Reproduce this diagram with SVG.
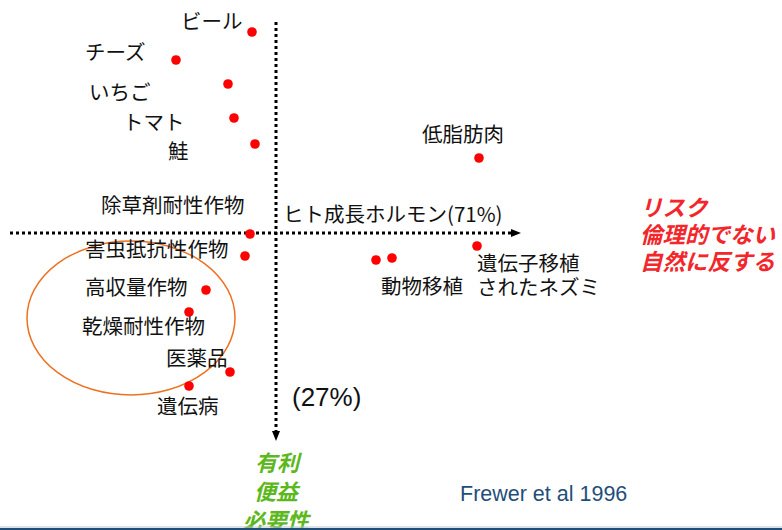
<svg xmlns="http://www.w3.org/2000/svg" width="782" height="530" viewBox="0 0 782 530">
<defs>
<style>
.t{font-family:"Noto Sans CJK JP","Liberation Sans",sans-serif;font-size:20.5px;fill:#111}
.d{fill:#f00}
.ax{stroke:#000;stroke-width:3;stroke-dasharray:3 3;fill:none}
.r{font-family:"Noto Sans CJK JP",sans-serif;font-size:22.5px;font-weight:bold;font-style:italic;fill:#f2262b}
.g{font-family:"Noto Sans CJK JP",sans-serif;font-size:22px;font-weight:bold;font-style:italic;fill:#5cb81c}
</style>
<marker id="ah" markerWidth="10" markerHeight="10" refX="0" refY="5" orient="auto" markerUnits="userSpaceOnUse">
<path d="M0,1 L10,5 L0,9 Z" fill="#000"/>
</marker>
</defs>
<rect width="782" height="530" fill="#fff"/>
<g id="connectors">
<line class="ax" x1="276" y1="22" x2="276" y2="431" marker-end="url(#ah)"/>
<line class="ax" x1="10" y1="233" x2="511" y2="233" marker-end="url(#ah)"/>
<ellipse cx="131" cy="318" rx="104" ry="77" fill="none" stroke="#ed7121" stroke-width="1.5"/>
</g>
<g id="beer"><circle class="d" cx="252" cy="32" r="4.8"/><text class="t" x="181" y="29">ビール</text></g>
<g id="cheese"><circle class="d" cx="176" cy="60" r="4.8"/><text class="t" x="85" y="60">チーズ</text></g>
<g id="strawberry"><circle class="d" cx="228" cy="84" r="4.8"/><text class="t" x="89" y="100">いちご</text></g>
<g id="tomato"><circle class="d" cx="234" cy="118" r="4.8"/><text class="t" x="123" y="130">トマト</text></g>
<g id="salmon"><circle class="d" cx="255" cy="144" r="4.8"/><text class="t" x="168" y="159">鮭</text></g>
<g id="herbicide"><circle class="d" cx="250" cy="234" r="4.8"/><text class="t" x="101" y="213">除草剤耐性作物</text></g>
<g id="hgh"><text class="t" x="283" y="222">ヒト成長ホルモン(71%)</text></g>
<g id="pest"><circle class="d" cx="245" cy="256" r="4.8"/><text class="t" x="85" y="257">害虫抵抗性作物</text></g>
<g id="yield"><circle class="d" cx="206" cy="290" r="4.8"/><text class="t" x="85" y="295">高収量作物</text></g>
<g id="drought"><circle class="d" cx="189" cy="312" r="4.8"/><text class="t" x="82" y="334">乾燥耐性作物</text></g>
<g id="medicine"><circle class="d" cx="230" cy="372" r="4.8"/><text class="t" x="166" y="366">医薬品</text></g>
<g id="genetic"><circle class="d" cx="189" cy="386" r="4.8"/><text class="t" x="157" y="414">遺伝病</text></g>
<g id="lowfat"><circle class="d" cx="479" cy="158" r="4.8"/><text class="t" x="422" y="142">低脂肪肉</text></g>
<g id="animal"><circle class="d" cx="376" cy="260" r="4.8"/><circle class="d" cx="392" cy="258" r="4.8"/><text class="t" x="381" y="294">動物移植</text></g>
<g id="mouse"><circle class="d" cx="477" cy="246" r="4.8"/><text class="t" x="477" y="271">遺伝子移植</text><text class="t" x="477" y="295">されたネズミ</text></g>
<g id="pct27"><text x="292" y="406" font-family="Liberation Sans,Arial,sans-serif" font-size="26" fill="#111">(27%)</text></g>
<g id="risk"><text class="r" x="640" y="216">リスク</text><text class="r" x="640" y="243">倫理的でない</text><text class="r" x="640" y="270">自然に反する</text></g>
<g id="benefit"><text class="g" x="255" y="471">有利</text><text class="g" x="254" y="500">便益</text><text class="g" x="243" y="529">必要性</text></g>
<g id="source"><text x="460" y="501" font-family="Liberation Sans,Arial,sans-serif" font-size="21.5" fill="#1f4e79">Frewer et al 1996</text></g>
<line x1="0" y1="527" x2="782" y2="527" stroke="#b8c4d0" stroke-width="1"/>
<line x1="0" y1="529" x2="782" y2="529" stroke="#1f4e79" stroke-width="2"/>
</svg>
